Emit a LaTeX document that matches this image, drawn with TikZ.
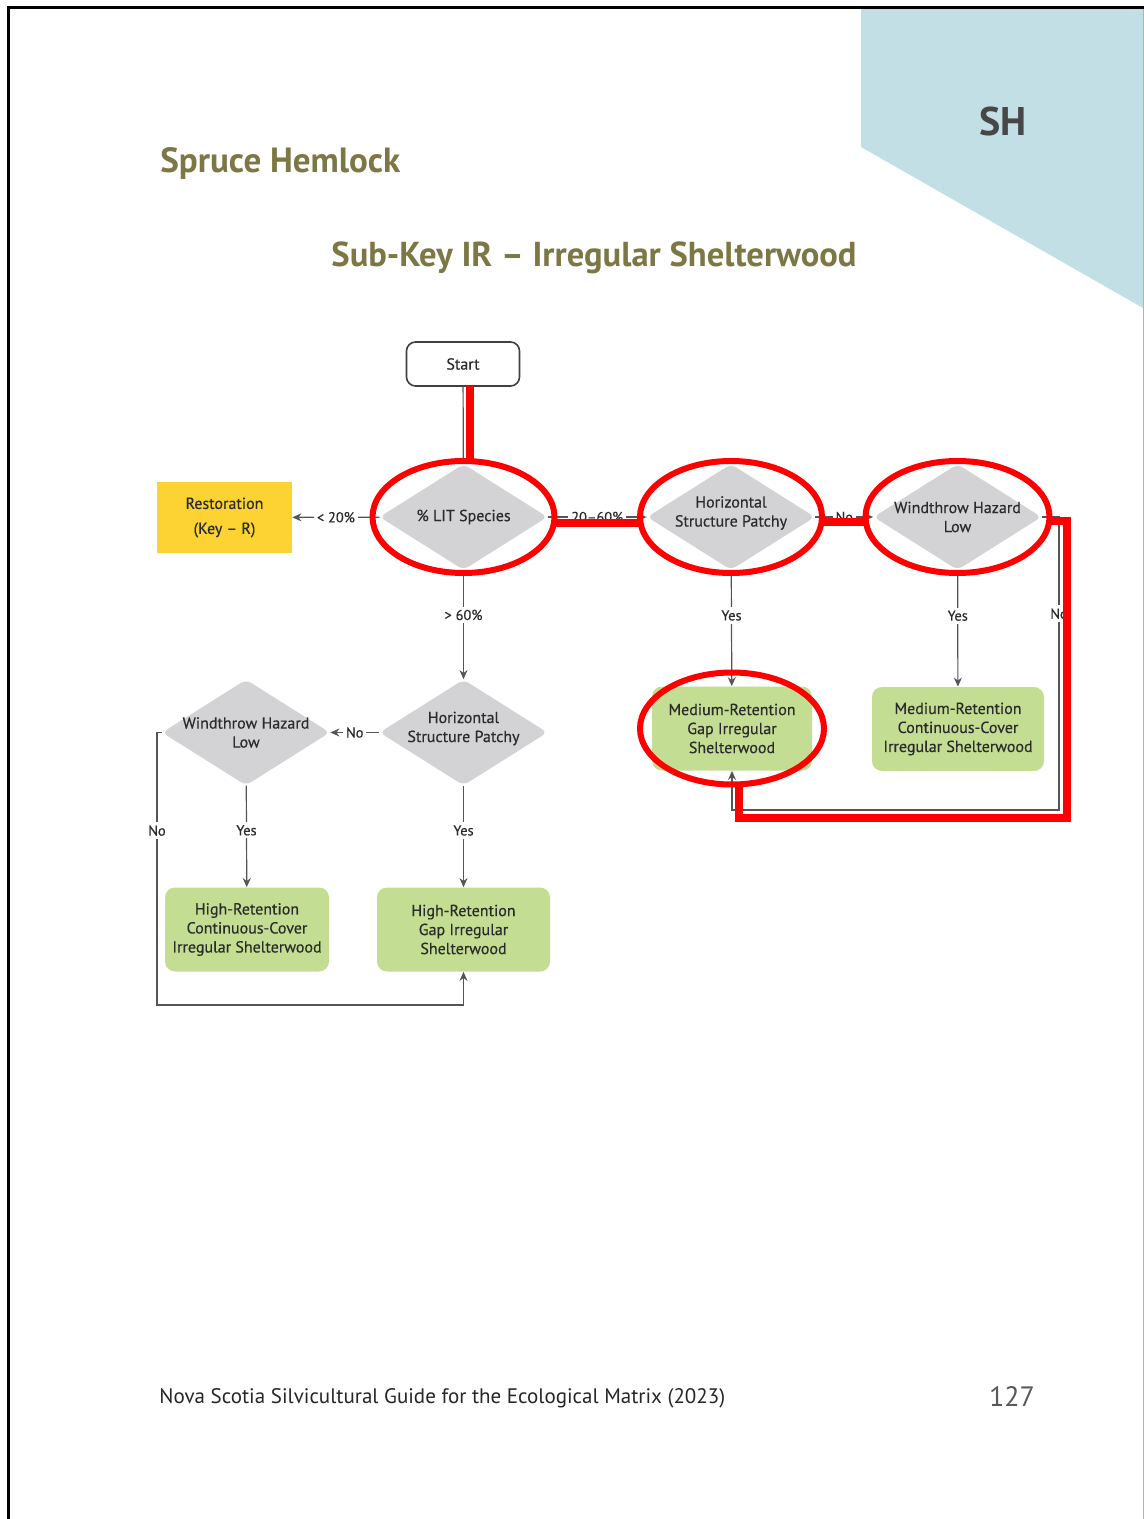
\documentclass[tikz,border=0pt]{standalone}
\usepackage{fontspec}
\setmainfont{PT Sans}
\newfontfamily\chartfam{PT Sans}[FakeBold=0.4]
\usetikzlibrary{shapes.geometric,arrows.meta}
\definecolor{diagrey}{HTML}{D3D3D5}
\definecolor{leafgreen}{HTML}{C3DE92}
\definecolor{sunny}{HTML}{FDD333}
\definecolor{linegrey}{HTML}{555555}
\definecolor{inkgrey}{HTML}{2B2B2B}
\definecolor{markred}{HTML}{FF0000}
\definecolor{tabblue}{HTML}{C3DFE6}
\definecolor{titleolive}{HTML}{7D7745}
\newcommand\chartfont{\chartfam\fontsize{8}{9.5}\selectfont}
\newcommand\edgefont{\chartfam\fontsize{7.2}{8}\selectfont}
\tikzset{
	decision/.style={diamond, fill=diagrey, rounded corners=3pt, minimum width=84pt, minimum height=53pt, inner sep=0pt},
	dtext/.style={align=center, font=\chartfont, text=inkgrey},
	outcome/.style={rectangle, fill=leafgreen, rounded corners=5pt, align=center, font=\chartfont, text=inkgrey, minimum height=42pt, inner sep=2pt},
	link/.style={draw=linegrey, line width=0.6pt},
	flow/.style={link, -{Stealth[length=4.5pt,width=4pt]}},
	lbl/.style={fill=white, font=\edgefont, text=inkgrey, inner sep=1.5pt},
	redring/.style={draw=markred, line width=3pt},
	redline/.style={draw=markred, line width=3.6pt}
}

\begin{document}
\begin{tikzpicture}[x=0.5pt,y=-0.5pt]
	\useasboundingbox (0,0) rectangle (1144,1519);
	\fill[white] (0,0) rectangle (1144,1519);
	% Page frame and tab
	\fill[tabblue] (861,9) -- (1143,9) -- (1143,308) -- (861,147) -- cycle;
	\draw[black, line width=1.5pt] (1144,8) -- (8,8) -- (8,1519);
	\draw[gray!60, line width=0.5pt] (1143,9) -- (1143,1519);
	\node[font=\bfseries\fontsize{20}{22}\selectfont, text=black!72] (tab) at (1003,122) {SH};
	% Titles
	\node[anchor=west, inner sep=0pt, font=\bfseries\fontsize{17.5}{19}\selectfont, text=titleolive] (species) at (160,164) {Spruce Hemlock};
	\node[inner sep=0pt, font=\bfseries\fontsize{17.3}{19}\selectfont, text=titleolive] (subkey) at (594,258) {Sub-Key IR – Irregular Shelterwood};
	% Nodes
	\node[draw=black!75, line width=0.8pt, rounded corners=4.5pt, minimum width=56.5pt, minimum height=22pt, font=\chartfont, text=inkgrey] (start) at (463,364) {Start};
	\node[decision] (lit) at (463.5,517) {};
	\node[dtext] (littxt) at (lit) {\% LIT Species};
	\node[fill=sunny, minimum width=67.5pt, minimum height=35.5pt, align=center, font=\chartfam\fontsize{8}{12.5}\selectfont, text=inkgrey] (rest) at (224.5,517.5) {Restoration\\(Key – R)};
	\node[decision] (hsp) at (731,517) {};
	\node[dtext, yshift=2pt] (hsptxt) at (hsp) {Horizontal\\Structure Patchy};
	\node[decision] (wh) at (957.5,517) {};
	\node[dtext] (whtxt) at (wh) {Windthrow Hazard\\Low};
	\node[outcome, minimum width=80pt] (mg) at (732,728.5) {Medium-Retention\\Gap Irregular\\Shelterwood};
	\node[outcome, minimum width=86pt] (mc) at (958,729) {Medium-Retention\\Continuous-Cover\\Irregular Shelterwood};
	\node[decision] (hsp2) at (463.5,732.5) {};
	\node[dtext, yshift=2pt] (hsp2txt) at (hsp2) {Horizontal\\Structure Patchy};
	\node[decision] (wh2) at (246,732.5) {};
	\node[dtext] (wh2txt) at (wh2) {Windthrow Hazard\\Low};
	\node[outcome, minimum width=82pt] (hc) at (247,929.5) {High-Retention\\Continuous-Cover\\Irregular Shelterwood};
	\node[outcome, minimum width=86.5pt] (hg) at (463.5,929.5) {High-Retention\\Gap Irregular\\Shelterwood};
	\coordinate (loopR) at (1059,810);
	\coordinate (loopL) at (157,1005);
	% Connectors
	\draw[link] (start) -- (lit);
	\draw[flow] (lit) -- node[lbl]{< 20\%} (rest);
	\draw[flow] (lit) -- node[lbl]{20–60\%} (hsp);
	\draw[flow] (hsp) -- node[lbl]{No} (wh);
	\draw[flow] (lit) -- node[lbl, pos=0.41]{> 60\%} (hsp2);
	\draw[flow] (hsp) -- node[lbl, pos=0.39]{Yes} (mg);
	\draw[flow] (wh) -- node[lbl, pos=0.39]{Yes} (mc);
	\draw[flow] (wh.east) -| node[lbl, pos=0.665]{No} (loopR) -| (mg.south);
	\draw[flow] (hsp2) -- node[lbl]{No} (wh2);
	\draw[flow] (hsp2) -- node[lbl, pos=0.44]{Yes} (hg);
	\draw[flow] (wh2) -- node[lbl, pos=0.44]{Yes} (hc);
	\draw[flow] (wh2.west) -| node[lbl, pos=0.68]{No} (loopL) -| (hg.south);
	% Red marks
	\draw[redring] (lit) ellipse [x radius=45.5pt, y radius=28pt];
	\draw[redring] (hsp) ellipse [x radius=45.5pt, y radius=28pt];
	\draw[redring] (wh) ellipse [x radius=46pt, y radius=28pt];
	\draw[redring] (mg) ellipse [x radius=46pt, y radius=28pt];
	\draw[redline] (470,386) -- (470,461);
	\draw[redline] (555,523) -- (640,523);
	\draw[redline] (823,522) -- (867,522);
	\draw[redline] (1051,521) -- (1067,521) -- (1067,818) -- (739,818) -- (739,784);
	% Footer
	\node[anchor=west, inner sep=0pt, font=\fontsize{10.5}{12}\selectfont, text=black!85] (footer) at (159,1398) {Nova Scotia Silvicultural Guide for the Ecological Matrix (2023)};
	\node[inner sep=0pt, font=\fontsize{14}{16}\selectfont, text=black!65] (page) at (1012,1397) {127};
\end{tikzpicture}
\end{document}
